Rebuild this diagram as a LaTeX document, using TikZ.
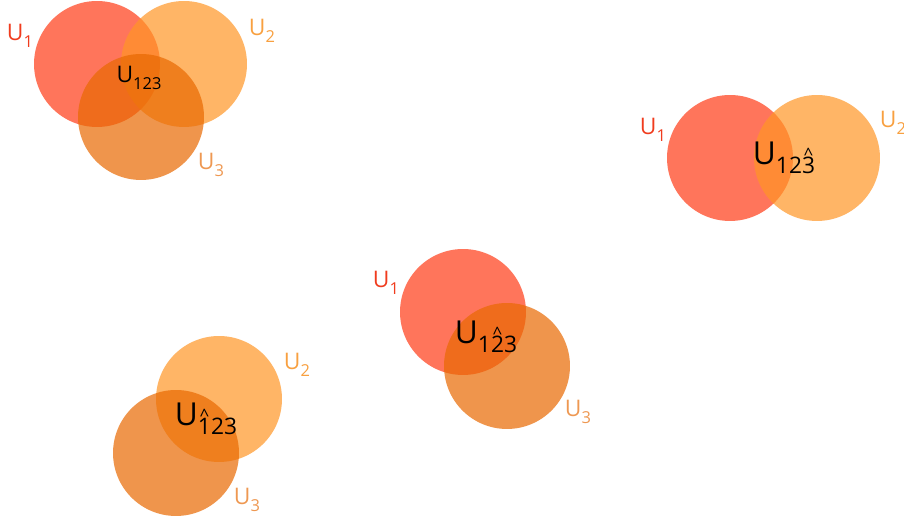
\documentclass[tikz,border=0pt]{standalone}
\usepackage{fontspec}
\setmainfont{Open Sans}
\definecolor{setRed}{RGB}{255,59,22}
\definecolor{setLight}{RGB}{255,149,37}
\definecolor{setDark}{RGB}{232,104,0}
\definecolor{txtRed}{RGB}{240,60,30}
\definecolor{txtLight}{RGB}{248,160,64}
\definecolor{txtDark}{RGB}{238,152,82}
\usepackage{tikz}
\usetikzlibrary{positioning}
% lowered index and a caret set above a digit
\newcommand{\idx}[1]{\raisebox{-0.55ex}{\scalebox{0.72}{#1}}}
\newcommand{\hatnum}[1]{\ooalign{#1\cr\hidewidth\raisebox{0.6em}{\scalebox{0.75}{\textasciicircum}}\hidewidth\cr}}

\begin{document}
\begin{tikzpicture}[x=0.02cm, y=-0.02cm,
    set/.style={circle, minimum size=2.52cm, inner sep=0pt, fill opacity=0.7, text opacity=1},
    lbl/.style={font=\fontsize{13}{15}\selectfont, inner sep=0pt},
    inner/.style={font=\fontsize{18}{20}\selectfont, inner sep=0pt, text=black}]
        \useasboundingbox (0,0) rectangle (904,519);
        % Three sets
        \node[set, fill=setRed] (a1) at (97,64) {};
        \node[set, fill=setLight] (a2) at (184,64) {};
        \node[set, fill=setDark] (a3) at (141,117) {};
        \node[inner, font=\fontsize{13}{15}\selectfont] (a123) at (139,78) {U\idx{123}};
        \node[lbl, text=txtRed] (a1l) at (20,36) {U\idx{1}};
        \node[lbl, text=txtLight] (a2l) at (262,31) {U\idx{2}};
        \node[lbl, text=txtDark] (a3l) at (211,165) {U\idx{3}};
        % U1 and U2
        \node[set, fill=setRed] (b1) at (730,158) {};
        \node[set, fill=setLight] (b2) at (817,158) {};
        \node[inner] (b123) at (784,158) {U\idx{12\hatnum{3}}};
        \node[lbl, text=txtRed] (b1l) at (653,130) {U\idx{1}};
        \node[lbl, text=txtLight] (b2l) at (893,123) {U\idx{2}};
        % U1 and U3
        \node[set, fill=setRed] (c1) at (463,312) {};
        \node[set, fill=setDark] (c3) at (507,366) {};
        \node[inner] (c123) at (486,337) {U\idx{1\hatnum{2}3}};
        \node[lbl, text=txtRed] (c1l) at (386,283) {U\idx{1}};
        \node[lbl, text=txtDark] (c3l) at (578,412) {U\idx{3}};
        % U2 and U3
        \node[set, fill=setLight] (d2) at (219,399) {};
        \node[set, fill=setDark] (d3) at (176,453) {};
        \node[inner] (d123) at (206,419) {U\idx{\hatnum{1}23}};
        \node[lbl, text=txtLight] (d2l) at (297,365) {U\idx{2}};
        \node[lbl, text=txtDark] (d3l) at (247,500) {U\idx{3}};
\end{tikzpicture}
\end{document}
